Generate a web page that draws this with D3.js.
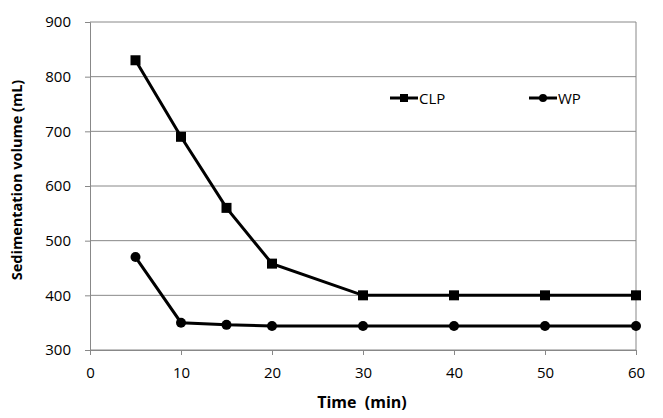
<!DOCTYPE html>
<html>
<head>
<meta charset="utf-8">
<script src="https://cdn.jsdelivr.net/npm/d3@7"></script>
<style>
  body { margin: 0; background: #fff; }
  text { font-family: "Open Sans", "Liberation Sans", sans-serif; fill: #000; }
</style>
</head>
<body>
<div id="chart"></div>
<script>
const times = [5, 10, 15, 20, 30, 40, 50, 60];
const clpValues = [830, 690, 560, 458, 400, 400, 400, 400];
const wpValues = [470, 350, 346, 344, 344, 344, 344, 344];
const xTicks = [0, 10, 20, 30, 40, 50, 60];
const yTicks = [300, 400, 500, 600, 700, 800, 900];

const W = 663, H = 418;
const margin = { top: 22, right: 27, bottom: 68, left: 90 };
const width = W - margin.left - margin.right;
const height = H - margin.top - margin.bottom;

const svg = d3.select('#chart').append('svg')
    .attr('width', W)
    .attr('height', H);

const g = svg.append('g')
    .attr('transform', `translate(${margin.left},${margin.top})`);

const x = d3.scaleLinear().domain([0, 60]).range([0, width]);
const y = d3.scaleLinear().domain([300, 900]).range([height, 0]);

// horizontal gridlines
g.selectAll('.grid')
    .data(yTicks)
    .enter()
    .append('line')
    .attr('x1', 0).attr('x2', width)
    .attr('y1', d => y(d)).attr('y2', d => y(d))
    .attr('stroke', '#888')
    .attr('stroke-width', 1);

// right border of plot area
g.append('line')
    .attr('x1', width).attr('x2', width)
    .attr('y1', 0).attr('y2', height)
    .attr('stroke', '#888');

const yAxis = g.append('g')
    .call(d3.axisLeft(y).tickValues(yTicks).tickSize(5).tickPadding(14));
const xAxis = g.append('g')
    .attr('transform', `translate(0,${height})`)
    .call(d3.axisBottom(x).tickValues(xTicks).tickSize(5).tickPadding(12));

[yAxis, xAxis].forEach(a => {
    a.selectAll('path, line').attr('stroke', '#888');
    a.selectAll('text').style('font-size', '15px').attr('fill', '#000');
});

const line = d3.line()
    .x(d => x(d[0]))
    .y(d => y(d[1]));

const clp = times.map((t, i) => [t, clpValues[i]]);
const wp = times.map((t, i) => [t, wpValues[i]]);

g.append('path').datum(clp)
    .attr('d', line).attr('fill', 'none')
    .attr('stroke', '#000').attr('stroke-width', 3);
g.append('path').datum(wp)
    .attr('d', line).attr('fill', 'none')
    .attr('stroke', '#000').attr('stroke-width', 3);

g.selectAll('.sq')
    .data(clp)
    .enter()
    .append('rect')
    .attr('x', d => x(d[0]) - 5)
    .attr('y', d => y(d[1]) - 5)
    .attr('width', 10).attr('height', 10)
    .attr('fill', '#000');

g.selectAll('.dot')
    .data(wp)
    .enter()
    .append('circle')
    .attr('cx', d => x(d[0]))
    .attr('cy', d => y(d[1]))
    .attr('r', 5)
    .attr('fill', '#000');

// legend
const legend = svg.append('g');
const items = [
    { name: 'CLP', x: 390, shape: 'square' },
    { name: 'WP', x: 529, shape: 'circle' }
];
items.forEach(it => {
    const lg = legend.append('g').attr('transform', `translate(${it.x},98)`);
    lg.append('line').attr('x1', 0).attr('x2', 28)
        .attr('stroke', '#000').attr('stroke-width', 3);
    if (it.shape === 'square') {
        lg.append('rect').attr('x', 10).attr('y', -4).attr('width', 8).attr('height', 8).attr('fill', '#000');
    } else {
        lg.append('circle').attr('cx', 14).attr('r', 4).attr('fill', '#000');
    }
    lg.append('text').attr('x', 29).attr('y', 0)
        .attr('dominant-baseline', 'central')
        .style('font-size', '15px')
        .text(it.name);
});

// axis titles
svg.append('text')
    .attr('transform', `translate(22,${margin.top + height / 2 - 6}) rotate(-90)`)
    .attr('text-anchor', 'middle')
    .style('font-size', '14.5px')
    .style('font-weight', 'bold')
    .text('Sedimentation volume (mL)');

svg.append('text')
    .attr('x', 362).attr('y', 408)
    .attr('text-anchor', 'middle')
    .style('font-size', '16px')
    .style('font-weight', 'bold')
    .attr('xml:space', 'preserve')
    .text('Time  (min)');
</script>
</body>
</html>
